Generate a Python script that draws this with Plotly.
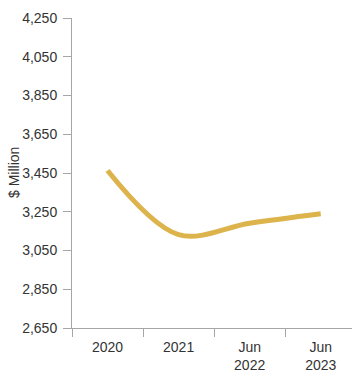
import plotly.graph_objects as go

# Period labels and values ($ Million)
periods = ["2020", "2021", "Jun<br>2022", "Jun<br>2023"]
values = [3463, 3132, 3191, 3240]

y_ticks = [2650, 2850, 3050, 3250, 3450, 3650, 3850, 4050, 4250]
y_tick_text = [f"{v:,}" for v in y_ticks]

fig = go.Figure()
fig.add_trace(go.Scatter(
    x=periods,
    y=values,
    mode="lines",
    line=dict(color="#dcb44b", width=5, shape="spline"),
    hoverinfo="skip",
))

font_family = "'Liberation Sans', Arial, Helvetica, sans-serif"
text_color = "#333333"

fig.update_layout(
    width=352,
    height=374,
    margin=dict(l=72, r=0, t=18, b=46),
    paper_bgcolor="white",
    plot_bgcolor="white",
    showlegend=False,
    font=dict(family=font_family, size=14, color=text_color),
    xaxis=dict(
        type="category",
        range=[-0.5, 3.44],
        showgrid=False,
        zeroline=False,
        showline=True,
        linecolor="#a6a6a6",
        linewidth=1,
        ticks="outside",
        tickson="boundaries",
        ticklen=8,
        tickcolor="#a6a6a6",
        ticklabelstandoff=6,
        tickfont=dict(size=14, color=text_color),
        fixedrange=True,
    ),
    yaxis=dict(
        range=[2650, 4250],
        tickvals=y_ticks,
        ticktext=y_tick_text,
        showgrid=False,
        zeroline=False,
        showline=True,
        linecolor="#a6a6a6",
        linewidth=1,
        ticks="outside",
        ticklen=8,
        tickcolor="#a6a6a6",
        ticklabelstandoff=3,
        tickfont=dict(size=14, color=text_color),
        fixedrange=True,
    ),
    annotations=[
        dict(
            text="$ Million",
            xref="paper", yref="paper",
            x=-0.207, y=0.5,
            xanchor="center", yanchor="middle",
            textangle=-90,
            showarrow=False,
            font=dict(size=14, color=text_color),
        )
    ],
)

fig.write_html("out.html")
